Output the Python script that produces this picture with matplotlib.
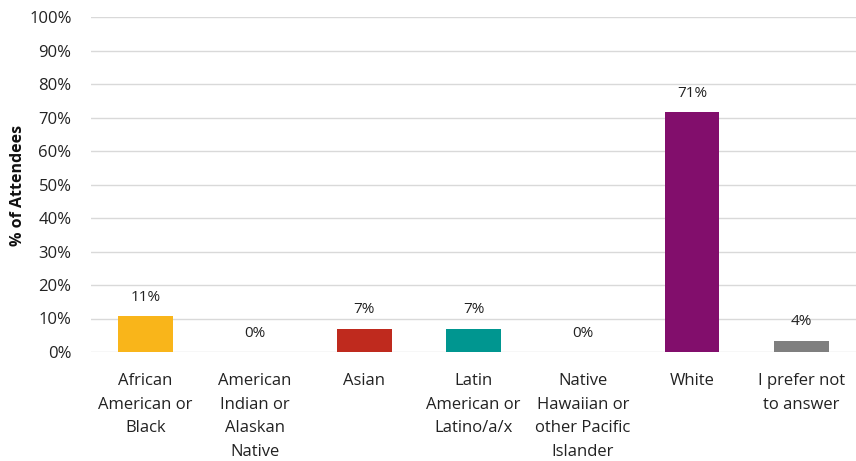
import matplotlib.pyplot as plt
from matplotlib.ticker import PercentFormatter

plt.rcParams['font.family'] = ['Open Sans', 'DejaVu Sans']

categories = ["African\nAmerican or\nBlack", "American\nIndian or\nAlaskan\nNative", "Asian",
              "Latin\nAmerican or\nLatino/a/x", "Native\nHawaiian or\nother Pacific\nIslander",
              "White", "I prefer not\nto answer"]
values = [10.6, 0, 7.0, 7.0, 0, 71.5, 3.4]
labels = ["11%", "0%", "7%", "7%", "0%", "71%", "4%"]
colors = ["#F9B51A", "#F9B51A", "#BF2A1E", "#009690", "#009690", "#820E6C", "#7F7F7F"]

fig = plt.figure(figsize=(8.56, 4.61), dpi=100)
ax = fig.add_axes([91 / 856, 1 - 352 / 461, 765 / 856, 335 / 461])

x = range(len(categories))
ax.bar(x, values, width=0.5, color=colors, zorder=3)

for i, (v, lab) in enumerate(zip(values, labels)):
    ax.annotate(lab, xy=(i, v), xytext=(0, 8), textcoords='offset points',
                ha='center', va='bottom', fontsize=11, color='#222222')

ax.set_xlim(-0.5, len(categories) - 0.5)
ax.set_ylim(0, 100)
ax.set_yticks(range(0, 101, 10))
ax.yaxis.set_major_formatter(PercentFormatter(decimals=0))
ax.grid(axis='y', color='#d9d9d9', linewidth=1, zorder=0)
for s in ax.spines.values():
    s.set_visible(False)
ax.tick_params(axis='both', length=0, labelsize=12, colors='#222222')
ax.tick_params(axis='y', pad=14)
ax.tick_params(axis='x', pad=15)
ax.set_xticks(list(x))
ax.set_xticklabels(categories, linespacing=1.65, va='top')

# y title placed in figure pixels so it is not cut off
fig.text(18 / 856, 1 - 185 / 461, "% of Attendees", rotation=90, ha='center', va='center',
         fontsize=11.5, fontweight='bold', color='#111111')

fig.savefig("out.png", dpi=100)
